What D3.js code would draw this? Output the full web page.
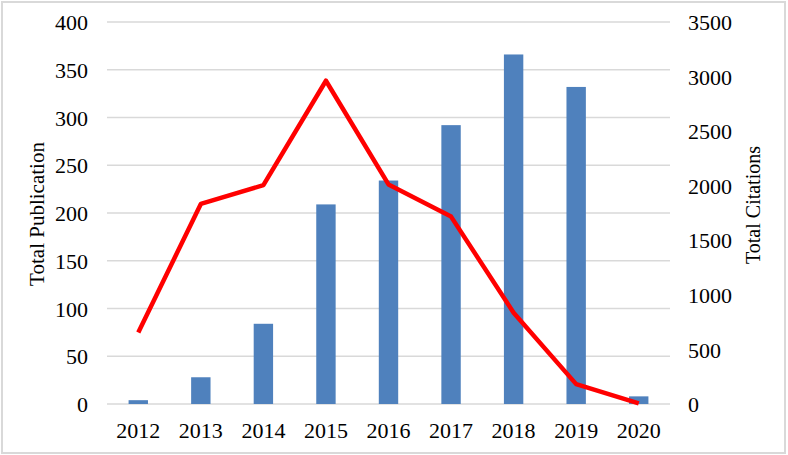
<!DOCTYPE html>
<html>
<head>
<meta charset="utf-8">
<script src="https://cdn.jsdelivr.net/npm/d3@7"></script>
<style>
  body { margin: 0; background: #fff; }
  text { font-family: "Liberation Serif", "Times New Roman", serif; fill: #000; }
</style>
</head>
<body>
<div class="container"></div>
<script>
const years = ['2012', '2013', '2014', '2015', '2016', '2017', '2018', '2019', '2020'];
const publications = [4, 28, 84, 209, 234, 292, 366, 332, 8];
const citations = [655, 1833, 2005, 2962, 2012, 1717, 836, 182, 5];
const leftTicks = [0, 50, 100, 150, 200, 250, 300, 350, 400];
const rightTicks = [0, 500, 1000, 1500, 2000, 2500, 3000, 3500];

const width = 788;
const height = 455;
const margin = {top: 22, right: 118, bottom: 51, left: 107};

const svg = d3.select('.container')
                .append('svg')
                .attr('width', width)
                .attr('height', height);

// outer border
svg.append('rect')
    .attr('x', 2)
    .attr('y', 2)
    .attr('width', width - 5)
    .attr('height', height - 4)
    .attr('fill', 'none')
    .attr('stroke', '#d9d9d9')
    .attr('stroke-width', 2);

const x = d3.scaleBand()
            .domain(years)
            .range([margin.left, width - margin.right])
            .paddingInner(0.69)
            .paddingOuter(0.345);

const xc = d3.scalePoint()
             .domain(years)
             .range([margin.left, width - margin.right])
             .padding(0.5);

const yL = d3.scaleLinear()
             .domain([0, 400])
             .range([height - margin.bottom, margin.top]);

const yR = d3.scaleLinear()
             .domain([0, 3500])
             .range([height - margin.bottom, margin.top]);

// gridlines
svg.append('g')
    .selectAll('line')
    .data(leftTicks)
    .enter()
    .append('line')
    .attr('x1', margin.left)
    .attr('x2', width - margin.right)
    .attr('y1', d => yL(d))
    .attr('y2', d => yL(d))
    .attr('stroke', '#d9d9d9')
    .attr('stroke-width', 1.5);

// left axis
const axL = svg.append('g')
    .attr('transform', `translate(${margin.left - 19},0)`)
    .call(d3.axisLeft(yL).tickValues(leftTicks).tickSize(0).tickPadding(0));
axL.select('.domain').remove();
axL.selectAll('text').style('font-size', '22px').attr('font-family', null).attr('dy', '0.35em');

// right axis
const axR = svg.append('g')
    .attr('transform', `translate(${width - margin.right + 18},0)`)
    .call(d3.axisRight(yR).tickValues(rightTicks).tickFormat(d3.format('d')).tickSize(0).tickPadding(0));
axR.select('.domain').remove();
axR.selectAll('text').style('font-size', '22px').attr('font-family', null).attr('dy', '0.35em');

// x axis
const axX = svg.append('g')
    .attr('transform', `translate(0,${height - margin.bottom})`)
    .call(d3.axisBottom(x).tickSize(0).tickPadding(18));
axX.select('.domain').remove();
axX.selectAll('text').style('font-size', '22px').attr('font-family', null).attr('dy', '0.71em');

// bars
svg.append('g')
    .selectAll('rect')
    .data(publications)
    .enter()
    .append('rect')
    .attr('x', (d, i) => x(years[i]))
    .attr('y', d => yL(d))
    .attr('width', x.bandwidth())
    .attr('height', d => yL(0) - yL(d))
    .attr('fill', '#4f81bd');

// citations line
const line = d3.line()
    .x((d, i) => xc(years[i]))
    .y(d => yR(d));

svg.append('path')
    .datum(citations)
    .attr('d', line)
    .attr('fill', 'none')
    .attr('stroke', '#ff0000')
    .attr('stroke-width', 4.5)
    .attr('stroke-linejoin', 'round');

// axis titles
svg.append('text')
    .attr('transform', 'translate(44,214) rotate(-90)')
    .attr('text-anchor', 'middle')
    .style('font-size', '21px')
    .text('Total Publication');

svg.append('text')
    .attr('transform', 'translate(760,205) rotate(-90)')
    .attr('text-anchor', 'middle')
    .style('font-size', '20px')
    .text('Total Citations');
</script>
</body>
</html>
